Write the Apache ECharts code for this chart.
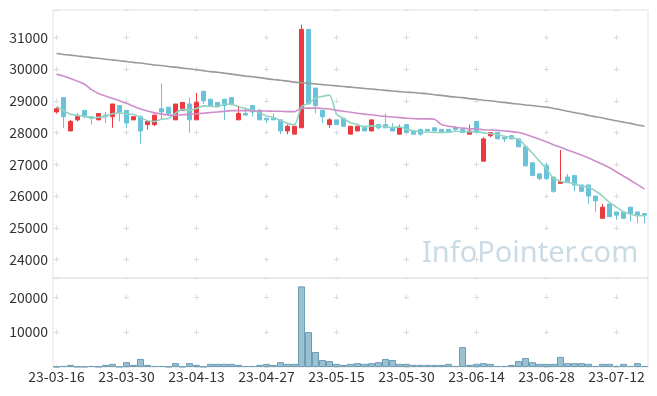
<!DOCTYPE html>
<html>
<head>
<meta charset="utf-8">
<script src="https://cdn.jsdelivr.net/npm/echarts@6/dist/echarts.min.js"></script>
<style>
html,body{margin:0;padding:0;background:#fff;}
#chart{width:657px;height:396px;}
</style>
</head>
<body>
<div id="chart"></div>
<script>
const dates = [
'23-03-16','23-03-17','23-03-20','23-03-21','23-03-22','23-03-23','23-03-24','23-03-27','23-03-28','23-03-29','23-03-30','23-03-31',
'23-04-03','23-04-04','23-04-05','23-04-06','23-04-07','23-04-10','23-04-11','23-04-12','23-04-13','23-04-14','23-04-17','23-04-18','23-04-19','23-04-20','23-04-21','23-04-24','23-04-25','23-04-26','23-04-27','23-04-28',
'23-05-02','23-05-03','23-05-04','23-05-08','23-05-09','23-05-10','23-05-11','23-05-12','23-05-15','23-05-16','23-05-17','23-05-18','23-05-19','23-05-22','23-05-23','23-05-24','23-05-25','23-05-26','23-05-30','23-05-31',
'23-06-01','23-06-02','23-06-05','23-06-07','23-06-08','23-06-09','23-06-12','23-06-13','23-06-14','23-06-15','23-06-16','23-06-19','23-06-20','23-06-21','23-06-22','23-06-23','23-06-26','23-06-27','23-06-28','23-06-29','23-06-30',
'23-07-03','23-07-04','23-07-05','23-07-06','23-07-07','23-07-10','23-07-11','23-07-12','23-07-13','23-07-14','23-07-17','23-07-18'
];
const openP = [
28650,29100,28050,28400,28700,28500,28400,28550,28500,28850,
28700,28400,28500,28250,28250,28750,28800,28400,28700,28900,
28400,29300,29050,28950,29050,29100,28400,28600,28850,28700,
28450,28450,28400,28050,27950,28150,31250,29400,28700,28250,
28400,28450,27950,28050,28200,28050,28250,28250,28150,27950,
28250,28050,28100,28100,28150,28100,28100,28150,28100,27950,
28350,27100,27900,28000,27850,27900,27800,27550,27050,26700,
26950,26600,26400,26600,26650,26350,26350,26000,25300,25750,
25500,25500,25650,25500,25450];
const closeP = [
28750,28500,28350,28500,28500,28450,28600,28500,28900,28650,
28300,28500,28050,28350,28550,28650,28600,28900,28950,28400,
28950,29000,28850,28850,28850,28900,28600,28550,28650,28400,
28400,28400,28050,28200,28200,31250,28900,28850,28500,28400,
28250,28200,28200,28200,28050,28400,28150,28150,28050,28150,
28000,27950,27950,28050,28050,28000,28000,28100,28000,28050,
28000,27800,28000,27800,27800,27800,27550,26950,26650,26550,
26550,26150,26450,26450,26350,26150,26000,25850,25650,25350,
25400,25300,25450,25400,25400];
const lowP = [
28600,28150,28050,28350,28450,28250,28400,28300,28150,28350,
28150,28400,27650,28100,28200,28400,28550,28400,28700,28000,
28400,28900,28800,28800,28400,28850,28400,28550,28500,28400,
28300,28400,27950,27950,27950,28150,28900,28600,28300,28150,
28250,28200,27950,28050,28050,28050,28100,28150,28050,27950,
28000,27950,27900,28050,28050,28000,28000,28050,28000,27950,
28000,27100,27850,27800,27700,27800,27550,26950,26650,26500,
26500,26100,26400,26450,26150,26150,25750,25500,25300,25350,
25250,25300,25200,25150,25150];
const highP = [
28800,29100,28400,28600,28700,28500,28600,28650,28900,28850,
28700,28500,28550,28350,28550,29550,28800,28900,28950,29100,
29250,29300,29050,28950,29050,29100,28850,28800,28850,28750,
28450,28600,28400,28250,28200,31400,31250,29400,28700,28450,
28400,28450,28200,28200,28200,28400,28250,28600,28300,28250,
28250,28050,28100,28100,28150,28100,28100,28200,28100,28250,
28350,27850,28000,28000,27850,27900,27800,27550,27050,26700,
27050,26600,27450,26700,26650,26350,26350,26000,25750,25750,
25500,25500,25650,25500,25450];
const volume = [
100,300,600,100,100,300,100,600,900,100,
1400,600,2300,600,300,300,100,1100,100,1100,
600,100,900,900,900,900,600,300,300,600,
900,600,1400,900,900,23100,10000,4300,2000,1700,
900,600,900,1100,900,1100,1400,2300,2000,900,
900,600,600,600,600,600,900,300,5700,600,
900,1100,900,300,300,600,1700,2600,1400,900,
900,900,2900,1100,1100,1100,900,300,900,900,
300,900,300,1100,300];
// MA5 values before enough history; rest averaged from closes
const ma5Start = [28820,28690,28580,28540];
const ma20 = [
29840,29780,29700,29620,29520,29350,29230,29150,29080,29000,
28920,28830,28740,28680,28620,28580,28550,28540,28560,28580,
28590,28610,28630,28650,28670,28690,28690,28690,28680,28680,
28680,28670,28670,28660,28660,28770,28770,28770,28760,28740,
28700,28670,28640,28610,28580,28560,28530,28510,28490,28470,
28450,28440,28430,28430,28420,28250,28200,28170,28140,28120,
28110,28090,28080,28070,28050,28030,28000,27950,27870,27790,
27710,27620,27540,27450,27370,27290,27200,27100,27000,26890,
26760,26630,26500,26360,26220];
const ma60 = [
30490,30460,30440,30410,30390,30360,30340,30310,30290,30260,
30240,30210,30190,30160,30130,30110,30080,30060,30030,30010,
29980,29950,29920,29900,29870,29840,29810,29780,29760,29730,
29700,29670,29650,29620,29590,29570,29550,29530,29510,29490,
29470,29450,29430,29410,29390,29370,29350,29330,29310,29290,
29270,29260,29240,29220,29190,29170,29140,29120,29100,29070,
29050,29020,29000,28970,28950,28920,28900,28870,28850,28820,
28800,28760,28720,28670,28630,28590,28540,28500,28460,28410,
28370,28330,28290,28240,28200];
const priceTicks = {min: 23420, max: 31860, step: 1000};
const volTicks = {min: 0, max: 25500, step: 10000};
const watermark = 'InfoPointer.com';

const ma5 = closeP.map((c, i) => {
  if (i < 4) return ma5Start[i];
  let s = 0; for (let k = i - 4; k <= i; k++) s += closeP[k];
  return Math.round(s / 5);
});
const candles = openP.map((o, i) => [o, closeP[i], lowP[i], highP[i]]);

// layout
const G = {left: 53, right: 9, top: 10, mainH: 268, volH: 89};
const plotW = 657 - G.left - G.right;
const catW = plotW / dates.length;
const armLen = 5;
const markColor = '#dcdcdc';
const hPeriod = catW * 10;
const hDash = [armLen, hPeriod - armLen];
const hOffset = hPeriod - (catW / 2 - armLen / 2);
const mainPx = G.mainH / (priceTicks.max - priceTicks.min) * priceTicks.step;
const firstMain = (priceTicks.max - Math.floor(priceTicks.max / priceTicks.step) * priceTicks.step) / priceTicks.step * mainPx;
const vDashMain = [armLen, mainPx - armLen];
const vOffMain = mainPx - ((firstMain - armLen / 2) % mainPx);
const volPx = G.volH / (volTicks.max - volTicks.min) * volTicks.step;
const firstVol = (volTicks.max - Math.floor(volTicks.max / volTicks.step) * volTicks.step) / volTicks.step * volPx;
const vDashVol = [armLen, volPx - armLen];
const vOffVol = volPx - ((firstVol - armLen / 2) % volPx);

const font = "'Noto Sans CJK KR', 'Noto Sans', sans-serif";
const plain = v => String(v);
const chart = echarts.init(document.getElementById('chart'), null, {renderer: 'canvas'});
chart.setOption({
  animation: false,
  backgroundColor: '#fff',
  grid: [
    {left: G.left, right: G.right, top: G.top, height: G.mainH, show: true, borderColor: '#e3e3e3', borderWidth: 1, backgroundColor: 'transparent'},
    {left: G.left, right: G.right, top: G.top + G.mainH, height: G.volH, show: true, borderColor: '#e3e3e3', borderWidth: 1, backgroundColor: 'transparent'}
  ],
  graphic: [{
    type: 'text', left: 422, top: 239, z: 0, silent: true,
    style: {text: watermark, fill: '#cbdbe6', font: "29px 'Noto Sans', sans-serif"}
  }],
  xAxis: [
    {type: 'category', data: dates, gridIndex: 0, boundaryGap: true,
     axisLine: {show: false}, axisTick: {show: false}, axisLabel: {show: false},
     splitLine: {show: true, interval: 9, alignWithLabel: true, lineStyle: {color: markColor, width: 1, type: vDashMain, dashOffset: vOffMain}}},
    {type: 'category', data: dates, gridIndex: 1, boundaryGap: true,
     axisLine: {show: false}, axisTick: {show: false},
     axisLabel: {show: true, interval: 9, color: '#333', fontSize: 14, fontFamily: font, margin: 3},
     splitLine: {show: true, interval: 9, alignWithLabel: true, lineStyle: {color: markColor, width: 1, type: vDashVol, dashOffset: vOffVol}}}
  ],
  yAxis: [
    {type: 'value', gridIndex: 0, min: priceTicks.min, max: priceTicks.max, minInterval: priceTicks.step, maxInterval: priceTicks.step, scale: true,
     axisLine: {show: false}, axisTick: {show: false},
     axisLabel: {color: '#333', fontSize: 14, fontFamily: font, margin: 5, showMinLabel: false, showMaxLabel: false, formatter: plain},
     splitLine: {show: true, lineStyle: {color: markColor, width: 1, type: hDash, dashOffset: hOffset}}},
    {type: 'value', gridIndex: 1, min: volTicks.min, max: volTicks.max, interval: volTicks.step,
     axisLine: {show: false}, axisTick: {show: false},
     axisLabel: {color: '#333', fontSize: 14, fontFamily: font, margin: 5, showMinLabel: false, showMaxLabel: false, formatter: plain},
     splitLine: {show: true, lineStyle: {color: markColor, width: 1, type: hDash, dashOffset: hOffset}}}
  ],
  series: [
    {type: 'candlestick', name: 'price', xAxisIndex: 0, yAxisIndex: 0, data: candles, barWidth: '70%', z: 3,
     itemStyle: {color: '#ea3a3f', color0: '#6ac2d9', borderColor: '#ea3a3f', borderColor0: '#6ac2d9', borderWidth: 1}},
    {type: 'line', name: 'MA5', data: ma5, xAxisIndex: 0, yAxisIndex: 0, showSymbol: false, smooth: 0.25, z: 4,
     lineStyle: {color: '#93d3c4', width: 1.6}},
    {type: 'line', name: 'MA20', data: ma20, xAxisIndex: 0, yAxisIndex: 0, showSymbol: false, smooth: 0.25, z: 4,
     lineStyle: {color: '#cc8fcb', width: 1.6}},
    {type: 'line', name: 'MA60', data: ma60, xAxisIndex: 0, yAxisIndex: 0, showSymbol: false, smooth: 0.25, z: 4,
     lineStyle: {color: '#9a9a9a', width: 1.6}},
    {type: 'bar', name: 'volume', data: volume, xAxisIndex: 1, yAxisIndex: 1, barWidth: '100%',
     itemStyle: {color: 'rgba(150,189,207,0.95)', borderColor: '#6b9db6', borderWidth: 1}}
  ]
});
</script>
</body>
</html>
